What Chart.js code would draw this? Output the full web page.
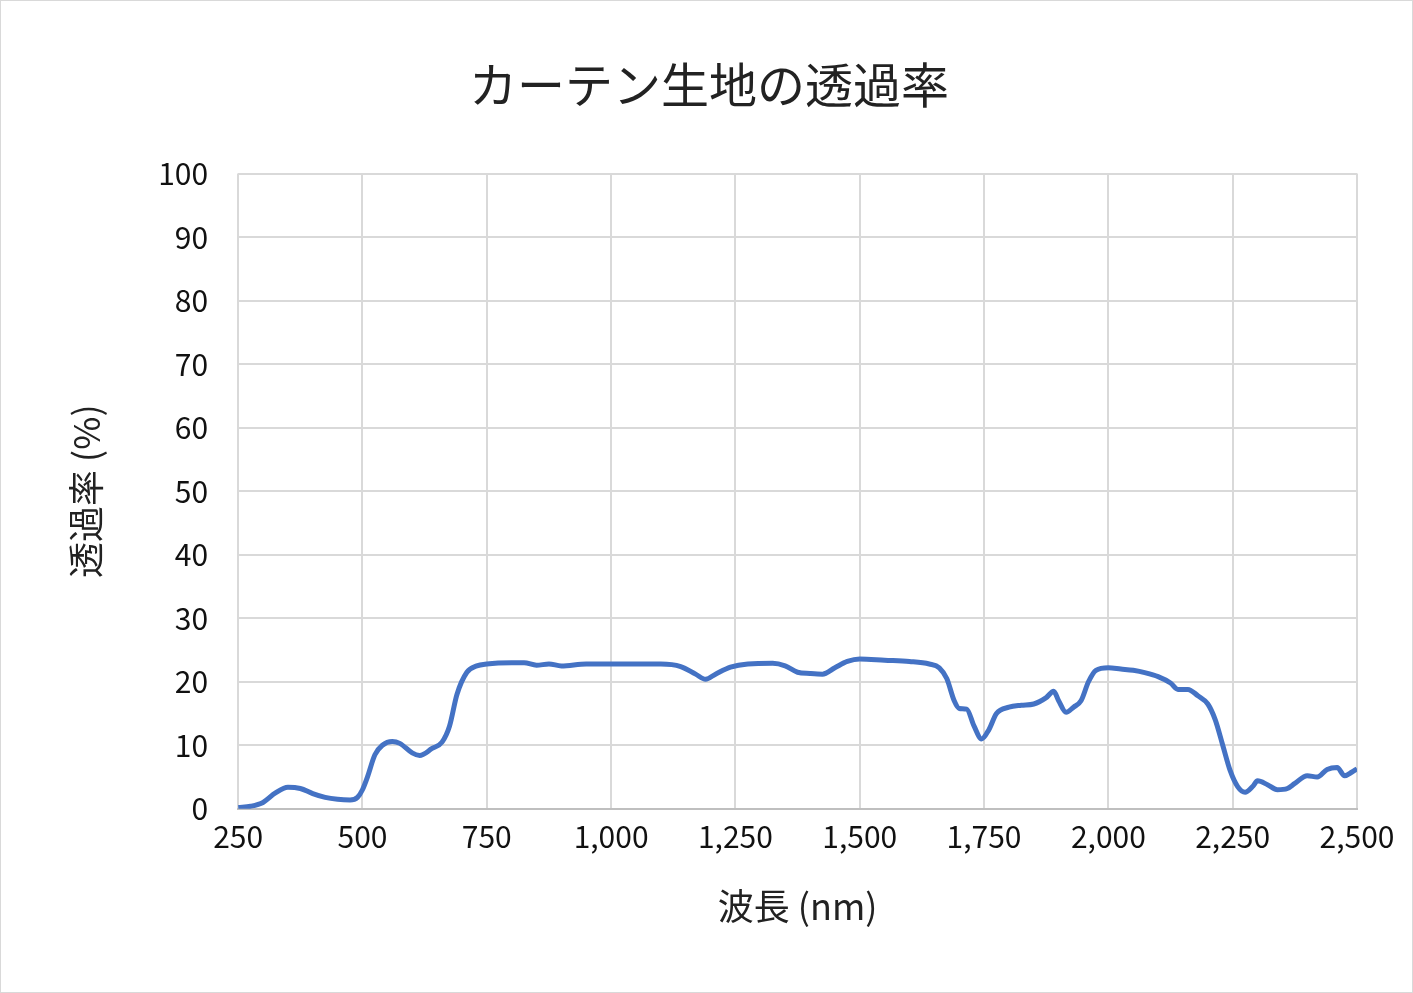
<!DOCTYPE html><html><head><meta charset="utf-8">
<script src="https://cdn.jsdelivr.net/npm/chart.js@4"></script>
<style>body{margin:0;background:#fff}#w{position:absolute;left:0;top:0;width:1411px;height:991px;border:1px solid #d9d9d9}</style>
</head><body><div id="w"><canvas id="c" width="1411" height="991"></canvas></div><script>
const wavelengths=[250,275,300,325,350,375,400,425,450,475,490,500,510,525,540,560,575,600,615,640,660,675,690,710,730,750,800,825,850,875,900,950,1000,1050,1100,1140,1170,1190,1210,1240,1275,1325,1350,1375,1400,1425,1450,1475,1500,1550,1600,1640,1660,1675,1690,1700,1715,1730,1745,1760,1775,1800,1825,1850,1875,1890,1900,1915,1930,1945,1960,1975,2000,2025,2050,2075,2100,2125,2140,2160,2180,2200,2215,2230,2245,2260,2275,2290,2300,2320,2340,2360,2375,2400,2420,2440,2460,2475,2490,2500];
const transmittance=[0.2,0.4,1,2.5,3.4,3.2,2.4,1.8,1.5,1.4,1.8,3,5,8.5,10,10.6,10.3,8.8,8.4,9.5,10.5,13,18,21.5,22.5,22.8,23,23,22.6,22.8,22.5,22.8,22.8,22.8,22.8,22.4,21.2,20.4,21.2,22.3,22.8,22.9,22.5,21.5,21.3,21.2,22.2,23.2,23.6,23.4,23.2,22.8,22.2,20.5,17,15.8,15.7,13,11,12.5,15,16,16.3,16.5,17.5,18.5,17,15.2,16,17,20,21.8,22.2,22,21.8,21.4,20.8,19.8,18.8,18.8,17.8,16.5,14,10,6,3.5,2.6,3.5,4.4,3.8,3,3.2,4,5.2,5,6.2,6.5,5.2,5.8,6.3];
const font='"Noto Sans CJK JP","Noto Sans",sans-serif';
new Chart(document.getElementById('c'),{type:'line',
data:{datasets:[{data:wavelengths.map((x,i)=>({x,y:transmittance[i]})),borderColor:'#4472c4',borderWidth:5,pointRadius:0,cubicInterpolationMode:'monotone'}]},
options:{responsive:false,animation:false,devicePixelRatio:1,
layout:{padding:{left:60,right:55,top:45,bottom:60}},
plugins:{legend:{display:false},title:{display:true,text:'カーテン生地の透過率',font:{family:font,size:48,weight:'normal'},color:'#222',padding:{top:10,bottom:60}}},
scales:{x:{type:'linear',min:250,max:2500,ticks:{stepSize:250,color:'#111',font:{family:font,size:30},padding:10},grid:{color:'#d9d9d9',lineWidth:2,tickLength:0},border:{color:'#bfbfbf',width:2},title:{display:true,text:'波長 (nm)',color:'#222',font:{family:font,size:36},padding:{top:20}}},
y:{min:0,max:100,ticks:{stepSize:10,color:'#111',font:{family:font,size:30},padding:30},grid:{color:'#d9d9d9',lineWidth:2,tickLength:0},border:{display:false},title:{display:true,text:'透過率 (%)',color:'#222',font:{family:font,size:36},padding:{bottom:20}}}}}});
</script></body></html>
